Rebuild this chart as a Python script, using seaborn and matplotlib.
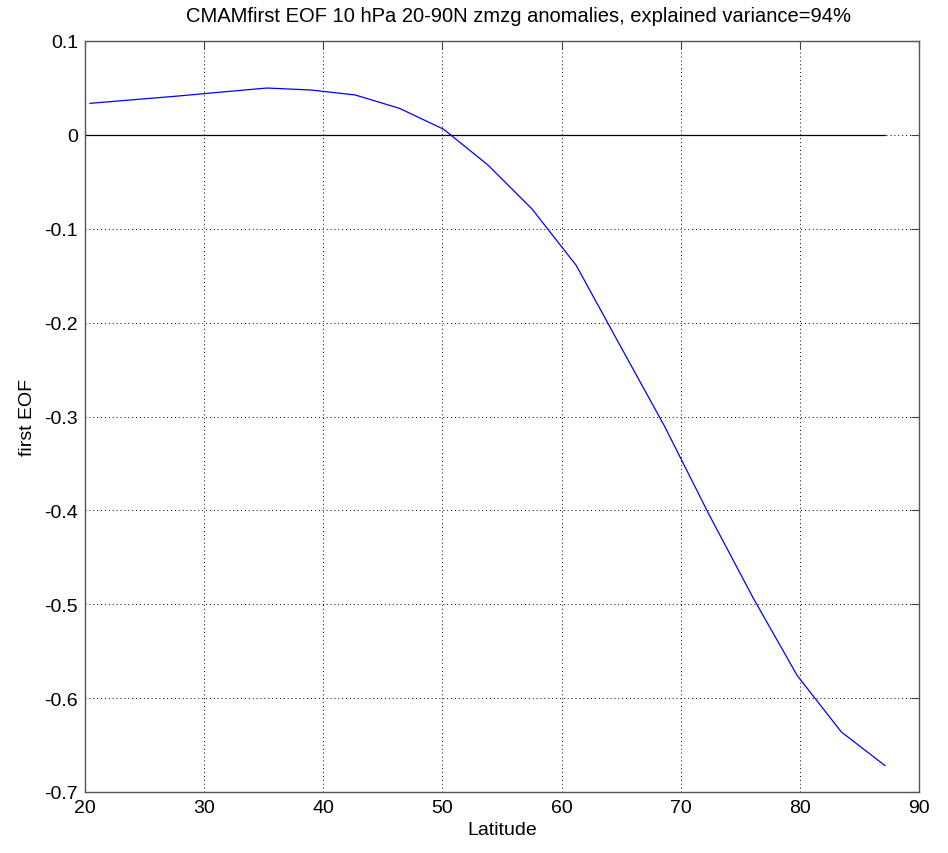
import matplotlib
matplotlib.use("Agg")
import matplotlib.pyplot as plt
import seaborn as sns
import pandas as pd
from matplotlib.ticker import FuncFormatter

# Gaussian-grid latitudes (deg N) and loading of the first EOF
latitude = [20.41, 24.12, 27.83, 31.54, 35.26, 38.97, 42.68, 46.39, 50.10,
            53.81, 57.52, 61.23, 64.94, 68.65, 72.36, 76.07, 79.78, 83.48, 87.16]
eof1 = [0.0336, 0.0375, 0.0414, 0.0457, 0.0499, 0.0478, 0.0425, 0.0283, 0.0060,
        -0.0320, -0.0789, -0.1390, -0.2250, -0.3105, -0.4040, -0.4930, -0.5760,
        -0.6360, -0.6720]

x_ticks = [20, 30, 40, 50, 60, 70, 80, 90]
y_ticks = [-0.7, -0.6, -0.5, -0.4, -0.3, -0.2, -0.1, 0, 0.1]

title = "CMAMfirst EOF 10 hPa 20-90N zmzg anomalies, explained variance=94%"

sns.set_style("white")
plt.rcParams["font.family"] = ["Liberation Sans", "DejaVu Sans"]
plt.rcParams["axes.unicode_minus"] = False
plt.rcParams["text.color"] = "black"
plt.rcParams["axes.labelcolor"] = "black"
plt.rcParams["xtick.color"] = "black"
plt.rcParams["ytick.color"] = "black"

df = pd.DataFrame({"Latitude": latitude, "EOF": eof1})

fig = plt.figure(figsize=(9.48, 8.54), dpi=100)
ax = fig.add_axes([85 / 948, 1 - 793 / 854, (919 - 85) / 948, (793 - 42) / 854])

# zero reference line
ax.plot([20, latitude[-1]], [0, 0], color="black", lw=0.9, zorder=2)

sns.lineplot(data=df, x="Latitude", y="EOF", ax=ax, color=(0, 0, 1),
             lw=0.9, zorder=3, estimator=None, sort=False)

ax.set_xlim(20, 90)
ax.set_ylim(-0.7, 0.1)
ax.set_xticks(x_ticks)
ax.set_yticks(y_ticks)
ax.yaxis.set_major_formatter(FuncFormatter(lambda v, p: f"{v:g}" if abs(v) > 1e-9 else "0"))

ax.grid(True, color="black", linestyle=(0, (1, 3)), linewidth=0.7)
ax.set_axisbelow(True)
ax.tick_params(direction="in", length=6, width=0.8, color="#404040",
               top=True, right=True, labelsize=14, pad=5)
for s in ax.spines.values():
    s.set_color("#555555")
    s.set_linewidth(1.0)

ax.set_xlabel("Latitude", fontsize=14, labelpad=4)
ax.set_ylabel("first EOF", fontsize=14, labelpad=6)
fig.text(518 / 948, 1 - 17 / 854, title, fontsize=14.5, ha="center", va="center")

fig.savefig("out.png", dpi=100)
